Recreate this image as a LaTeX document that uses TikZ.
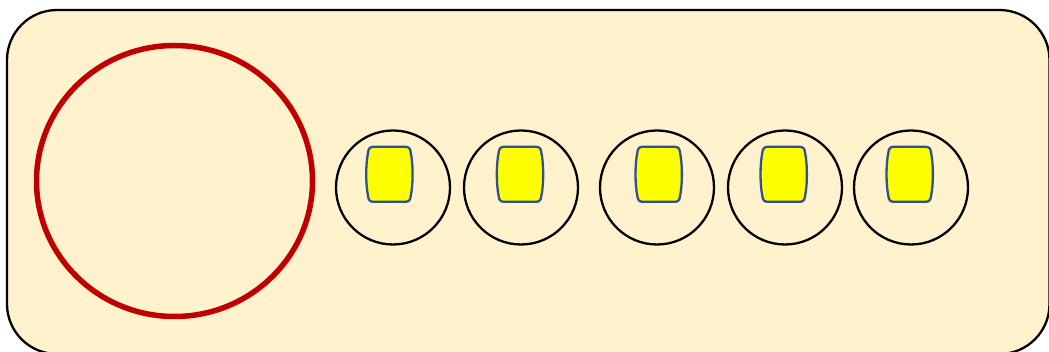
\documentclass[tikz,border=0pt]{standalone}
\usetikzlibrary{shapes.geometric}
\definecolor{panelfill}{HTML}{FFF2CC}
\definecolor{ringred}{HTML}{C00000}
\definecolor{cupyellow}{HTML}{FFFF00}
\definecolor{cupblue}{HTML}{2F528F}
\tikzset{
  panel/.style={draw=black, line width=2.3pt, fill=panelfill, rounded corners=50pt},
  bigring/.style={draw=ringred, line width=5.5pt, ellipse, minimum width=276pt, minimum height=271pt, inner sep=0pt},
  holder/.style={draw=black, line width=2.3pt, circle, minimum size=114pt, inner sep=0pt},
  cup/.pic={
    \path[draw=cupblue, line width=2.3pt, fill=cupyellow]
      (-16,-27.5) -- (16,-27.5) .. controls (19.5,-27.5) and (21,-25.5) .. (21.3,-22)
      .. controls (23.8,-10) and (23.8,10) .. (21.3,22)
      .. controls (21,25.5) and (19.5,27.5) .. (16,27.5) -- (-16,27.5)
      .. controls (-19.5,27.5) and (-21,25.5) .. (-21.3,22)
      .. controls (-23.8,10) and (-23.8,-10) .. (-21.3,-22)
      .. controls (-21,-25.5) and (-19.5,-27.5) .. (-16,-27.5) -- cycle;
  }
}
\begin{document}
\begin{tikzpicture}[x=1pt,y=-1pt]
\useasboundingbox (0,0) rectangle (1049,352);
\clip (0,0) rectangle (1049,352);
\draw[panel] (7,10) rectangle (1049.5,354);
\node[bigring] (ring) at (174.5,181) {};
\node[holder] (h1) at (393,187.5) {};
\node[holder] (h2) at (521,187.5) {};
\node[holder] (h3) at (657,187.5) {};
\node[holder] (h4) at (785,187.5) {};
\node[holder] (h5) at (911,187.5) {};
\pic (c1) at (389.4,174.3) {cup};
\pic (c2) at (520,174.3) {cup};
\pic (c3) at (658.7,174.3) {cup};
\pic (c4) at (783.7,174.3) {cup};
\pic (c5) at (909.7,174.3) {cup};
\end{tikzpicture}
\end{document}
